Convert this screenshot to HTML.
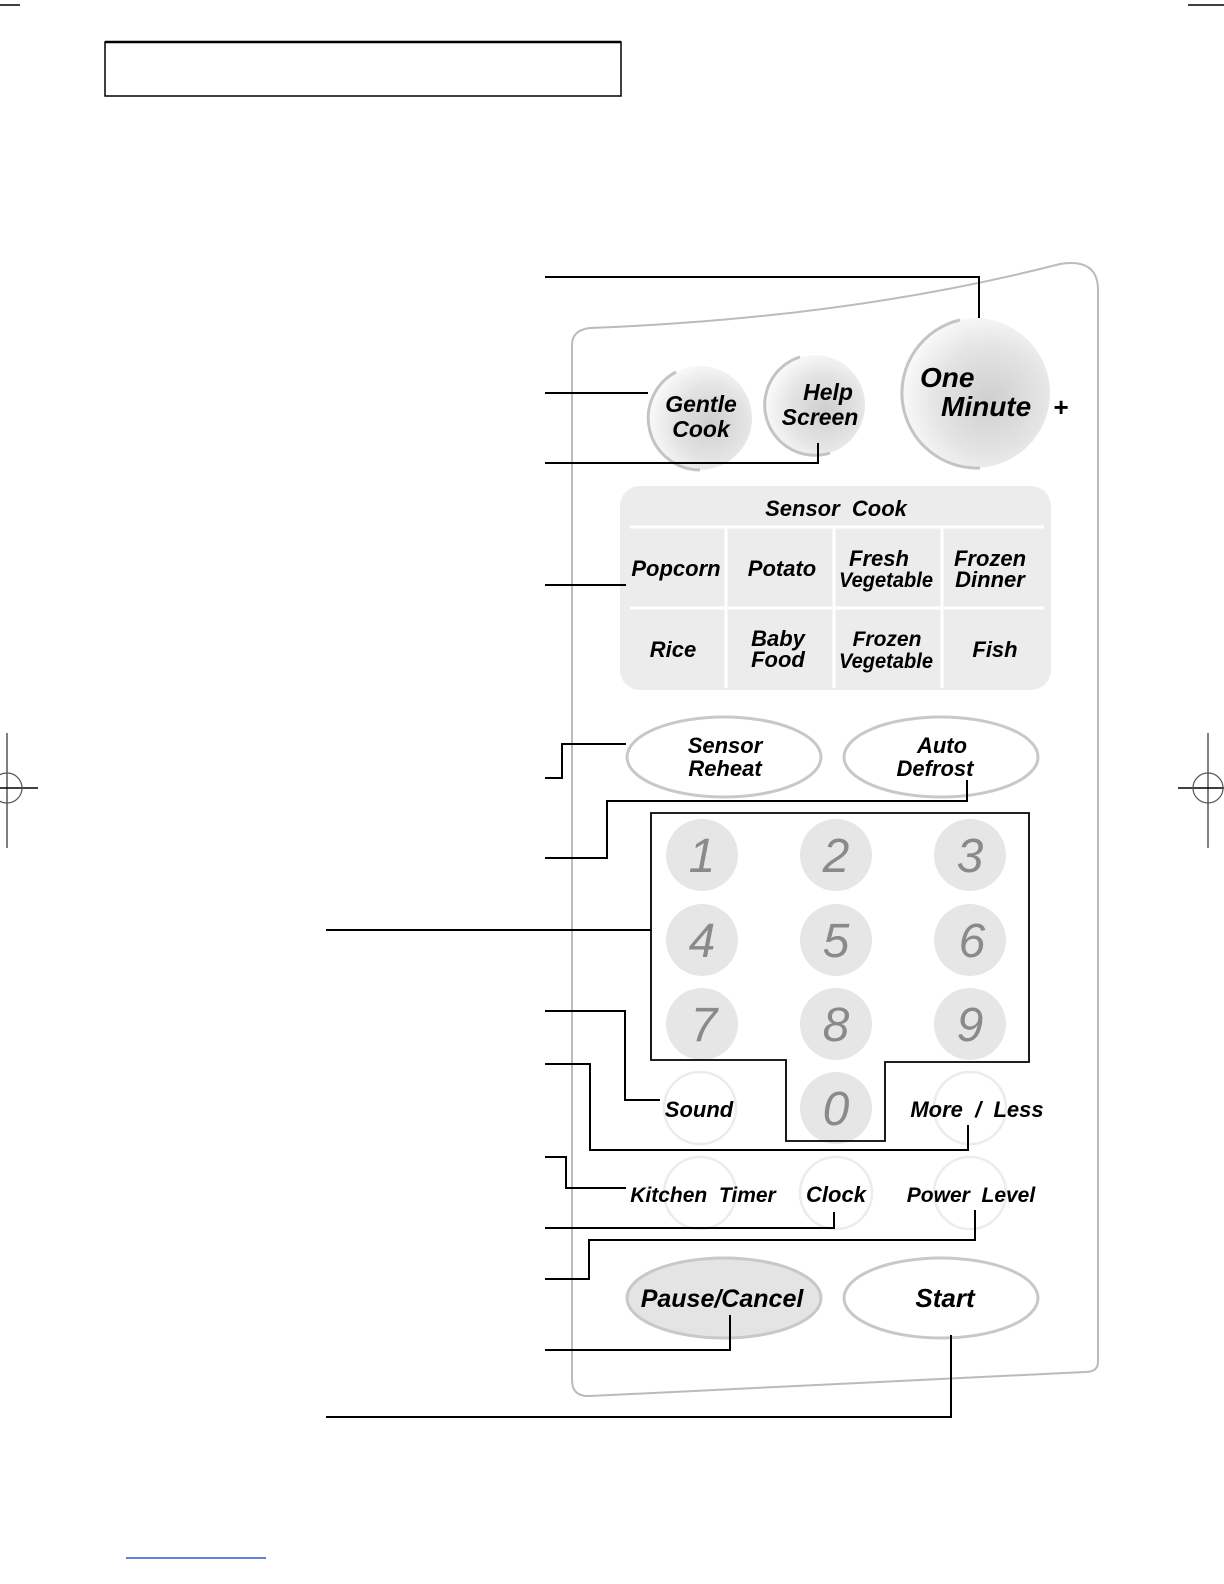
<!DOCTYPE html>
<html><head><meta charset="utf-8"><style>
html,body{margin:0;padding:0;background:#fff;}
svg{display:block;}
text{font-family:"Liberation Sans",sans-serif;font-weight:bold;font-style:italic;fill:#000;white-space:pre;}
text.d{font-weight:normal;fill:#8a8a8a;}
</style></head><body>
<svg width="1224" height="1584" viewBox="0 0 1224 1584" xmlns="http://www.w3.org/2000/svg">
<defs>
<radialGradient id="g1" cx="0.6" cy="0.55" r="0.6">
<stop offset="0" stop-color="#cfcfcf"/><stop offset="0.6" stop-color="#e4e4e4"/><stop offset="1" stop-color="#fafafa"/>
</radialGradient>
</defs>
<line x1="0" y1="5" x2="20" y2="5" stroke="#000" stroke-width="1.5"/>
<line x1="1188" y1="5" x2="1224" y2="5" stroke="#000" stroke-width="1.5"/>
<line x1="7" y1="733" x2="7" y2="848" stroke="#555" stroke-width="1.5"/>
<line x1="0" y1="788" x2="38" y2="788" stroke="#000" stroke-width="1.5"/>
<circle cx="7" cy="788" r="15" fill="none" stroke="#555" stroke-width="1.2"/>
<line x1="1208" y1="733" x2="1208" y2="848" stroke="#555" stroke-width="1.5"/>
<line x1="1178" y1="788" x2="1224" y2="788" stroke="#000" stroke-width="1.5"/>
<circle cx="1208" cy="788" r="15" fill="none" stroke="#555" stroke-width="1.2"/>
<line x1="126" y1="1558" x2="266" y2="1558" stroke="#3355cc" stroke-width="1.5"/>
<rect x="105" y="42" width="516" height="54" fill="none" stroke="#000" stroke-width="1.5"/>
<line x1="105" y1="42" x2="621" y2="42" stroke="#000" stroke-width="2.5"/>
<path d="M572 345 Q572 330 590 328 Q850 318 1060 264 Q1098 258 1098 290 L1098 1362 Q1098 1372 1085 1372 L590 1396 Q572 1397 572 1380 Z" fill="none" stroke="#bbb" stroke-width="2"/>
<circle cx="700" cy="418" r="52" fill="url(#g1)"/>
<path d="M676 372 A52 52 0 0 0 700 470" fill="none" stroke="#c4c4c4" stroke-width="3"/>
<circle cx="815" cy="405" r="50" fill="url(#g1)"/>
<path d="M800 357 A50 50 0 0 0 830 453" fill="none" stroke="#c4c4c4" stroke-width="3"/>
<circle cx="975" cy="393" r="75" fill="url(#g1)"/>
<path d="M960 320 A75 75 0 0 0 980 468" fill="none" stroke="#c4c4c4" stroke-width="3"/>
<text x="701" y="412" font-size="23" text-anchor="middle">Gentle</text>
<text x="701" y="437" font-size="23" text-anchor="middle">Cook</text>
<text x="828" y="400" font-size="23" text-anchor="middle">Help</text>
<text x="820" y="425" font-size="23" text-anchor="middle">Screen</text>
<text x="920" y="387" font-size="28">One</text>
<text x="941" y="416" font-size="28">Minute</text>
<text x="1053" y="416" font-size="26">+</text>
<rect x="620" y="486" width="431" height="204" rx="20" fill="#ececec"/>
<line x1="630" y1="527" x2="1044" y2="527" stroke="#fff" stroke-width="3"/>
<line x1="630" y1="608" x2="1044" y2="608" stroke="#fff" stroke-width="3"/>
<line x1="726" y1="528" x2="726" y2="688" stroke="#fff" stroke-width="3"/>
<line x1="834" y1="528" x2="834" y2="688" stroke="#fff" stroke-width="3"/>
<line x1="942" y1="528" x2="942" y2="688" stroke="#fff" stroke-width="3"/>
<text x="836" y="516" font-size="22" text-anchor="middle">Sensor  Cook</text>
<text x="676" y="576" font-size="22" text-anchor="middle">Popcorn</text>
<text x="782" y="576" font-size="22" text-anchor="middle">Potato</text>
<text x="879" y="566" font-size="22" text-anchor="middle">Fresh</text>
<text x="886" y="587" font-size="21" text-anchor="middle" textLength="94" lengthAdjust="spacingAndGlyphs">Vegetable</text>
<text x="990" y="566" font-size="22" text-anchor="middle">Frozen</text>
<text x="990" y="587" font-size="22" text-anchor="middle">Dinner</text>
<text x="673" y="657" font-size="22" text-anchor="middle">Rice</text>
<text x="778" y="646" font-size="22" text-anchor="middle">Baby</text>
<text x="778" y="667" font-size="22" text-anchor="middle">Food</text>
<text x="887" y="646" font-size="21" text-anchor="middle">Frozen</text>
<text x="886" y="668" font-size="21" text-anchor="middle" textLength="94" lengthAdjust="spacingAndGlyphs">Vegetable</text>
<text x="995" y="657" font-size="22" text-anchor="middle">Fish</text>
<ellipse cx="724" cy="757" rx="97" ry="40" fill="#fff" stroke="#c8c8c8" stroke-width="3"/>
<ellipse cx="941" cy="757" rx="97" ry="40" fill="#fff" stroke="#c8c8c8" stroke-width="3"/>
<text x="725" y="753" font-size="22" text-anchor="middle">Sensor</text>
<text x="725" y="776" font-size="22" text-anchor="middle">Reheat</text>
<text x="942" y="753" font-size="22" text-anchor="middle">Auto</text>
<text x="935" y="776" font-size="22" text-anchor="middle">Defrost</text>
<ellipse cx="724" cy="1298" rx="97" ry="40" fill="#e4e4e4" stroke="#c8c8c8" stroke-width="3"/>
<ellipse cx="941" cy="1298" rx="97" ry="40" fill="#fff" stroke="#c8c8c8" stroke-width="3"/>
<text x="722" y="1307" font-size="25" text-anchor="middle">Pause/Cancel</text>
<text x="945" y="1307" font-size="26" text-anchor="middle">Start</text>
<g fill="#e6e6e6">
<circle cx="702" cy="855" r="36"/><circle cx="836" cy="855" r="36"/><circle cx="970" cy="855" r="36"/>
<circle cx="702" cy="940" r="36"/><circle cx="836" cy="940" r="36"/><circle cx="970" cy="940" r="36"/>
<circle cx="702" cy="1024" r="36"/><circle cx="836" cy="1024" r="36"/><circle cx="970" cy="1024" r="36"/>
<circle cx="836" cy="1108" r="36"/>
</g>
<g fill="none" stroke="#ececec" stroke-width="2.5">
<circle cx="700" cy="1108" r="36"/><circle cx="970" cy="1108" r="36"/>
<circle cx="700" cy="1193" r="36"/><circle cx="836" cy="1193" r="36"/><circle cx="970" cy="1193" r="36"/>
</g>
<g font-size="48" text-anchor="middle">
<text class="d" x="702" y="872">1</text><text class="d" x="836" y="872">2</text><text class="d" x="970" y="872">3</text>
<text class="d" x="702" y="957">4</text><text class="d" x="836" y="957">5</text><text class="d" x="972" y="957">6</text>
<text class="d" x="704" y="1041">7</text><text class="d" x="836" y="1041">8</text><text class="d" x="970" y="1041">9</text>
<text class="d" x="836" y="1125">0</text>
</g>
<text x="699" y="1117" font-size="22" text-anchor="middle">Sound</text>
<text x="977" y="1117" font-size="22" text-anchor="middle">More  /  Less</text>
<text x="703" y="1202" font-size="21" text-anchor="middle">Kitchen  Timer</text>
<text x="836" y="1202" font-size="22" text-anchor="middle">Clock</text>
<text x="971" y="1202" font-size="21" text-anchor="middle">Power  Level</text>
<g fill="none" stroke="#000" stroke-width="2">
<polyline points="545,277 979,277 979,318"/>
<polyline points="545,393 648,393"/>
<polyline points="545,463 818,463 818,443"/>
<polyline points="545,585 626,585"/>
<polyline points="545,778 562,778 562,744 626,744"/>
<polyline points="545,858 607,858 607,801 967,801 967,780"/>
<polyline points="326,930 651,930"/>
<polygon points="651,813 1029,813 1029,1062 885,1062 885,1141 786,1141 786,1060 651,1060" stroke-width="1.8"/>
<polyline points="545,1011 625,1011 625,1100 660,1100"/>
<polyline points="545,1064 590,1064 590,1150 968,1150 968,1125"/>
<polyline points="545,1157 566,1157 566,1188 626,1188"/>
<polyline points="545,1228 834,1228 834,1212"/>
<polyline points="545,1279 589,1279 589,1240 975,1240 975,1210"/>
<polyline points="545,1350 730,1350 730,1315"/>
<polyline points="326,1417 951,1417 951,1335"/>
</g>
</svg>
</body></html>
